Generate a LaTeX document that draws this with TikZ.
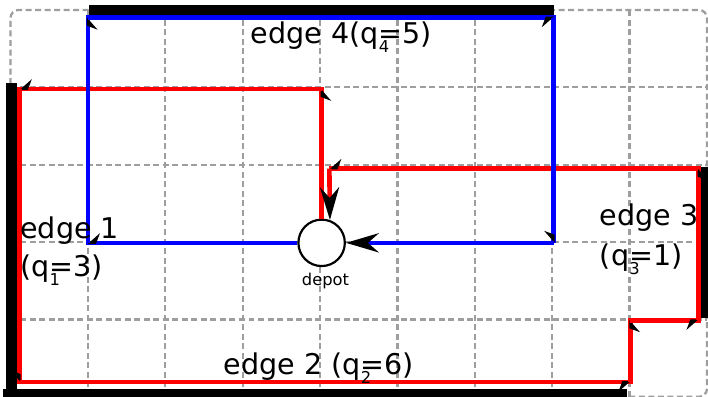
\documentclass[tikz,border=0pt]{standalone}
\usepackage{fontspec}
\setmainfont{DejaVu Sans}
\usetikzlibrary{arrows.meta}
\newcommand{\qsub}[1]{q\rlap{\raisebox{-3.3pt}{\fontsize{6}{7}\selectfont #1}}}
\tikzset{
  gridline/.style={draw=black!38, dash pattern=on 2.2pt off 1.3pt, line width=0.85pt},
  edgeline/.style={line width=3.9pt},
  route/.style={line width=1.7pt},
  turn/.style={-{Stealth[harpoon,swap,length=4pt,width=7pt,black]}},
  bigtip/.style={-{Stealth[length=12pt,width=7pt,black]}},
  edgetext/.style={font=\fontsize{10.5}{12}\selectfont, anchor=base west, inner sep=0pt}
}
\begin{document}
\begin{tikzpicture}
\useasboundingbox (-0.136,-0.002) rectangle (9.013,5.128);
% grid
\foreach \x in {1,...,8} \draw[gridline] (\x,0) -- (\x,5);
\foreach \y in {1,...,4} \draw[gridline] (0,\y) -- (9,\y);
\draw[gridline, rounded corners=3pt] (0,0) rectangle (9,5);
% required edges
\draw[edgeline] (0.01,-0.1) -- (0.01,4.05);
\draw[edgeline] (-0.1,0.03) -- (7.97,0.03);
\draw[edgeline] (8.98,1.02) -- (8.98,2.97);
\draw[edgeline] (1.02,5) -- (7.02,5);
% depot
\node[circle, draw, line width=0.8pt, minimum size=0.6cm, inner sep=0pt, fill=white] (depot) at (4.02,1.99) {};
\node[font=\fontsize{6}{7}\selectfont, anchor=base, inner sep=0pt] (depotname) at (4.07,1.44) {depot};
% red tour
\coordinate (r1) at (4.02,3.98);
\coordinate (r2) at (0.12,3.98);
\coordinate (r3) at (0.12,0.19);
\coordinate (r4) at (8.01,0.19);
\coordinate (r5) at (8.01,0.99);
\coordinate (r6) at (8.89,0.99);
\coordinate (r7) at (8.89,2.95);
\coordinate (r8) at (4.12,2.95);
\draw[route, red] (depot.north) -- (r1) -- (r2) -- (r3) -- (r4) -- (r5) -- (r6) -- (r7) -- (r8);
\foreach \a/\b in {depot.north/r1, r1/r2, r2/r3, r3/r4, r4/r5, r5/r6, r6/r7, r7/r8}
  \draw[route, red, turn] (\a) -- (\b);
\draw[route, red, bigtip] (r8) -- (depot.70);
% blue tour
\coordinate (b1) at (1,1.99);
\coordinate (b2) at (1,4.9);
\coordinate (b3) at (7.02,4.9);
\coordinate (b4) at (7.02,1.99);
\draw[route, blue] (depot.west) -- (b1) -- (b2) -- (b3) -- (b4);
\foreach \a/\b in {depot.west/b1, b1/b2, b2/b3, b3/b4}
  \draw[route, blue, turn] (\a) -- (\b);
\draw[route, blue, bigtip] (b4) -- (depot.east);
% labels
\node[edgetext] (e4) at (3.10,4.56) {edge 4(\qsub{4}=5)};
\node[edgetext] (e1) at (0.12,2.05) {edge 1};
\node[edgetext] (q1) at (0.12,1.56) {(\qsub{1}=3)};
\node[edgetext] (e2) at (2.75,0.29) {edge 2 (\qsub{2}=6)};
\node[edgetext] (e3) at (7.61,2.21) {edge 3};
\node[edgetext] (q3) at (7.61,1.70) {(\qsub{3}=1)};
\end{tikzpicture}
\end{document}
